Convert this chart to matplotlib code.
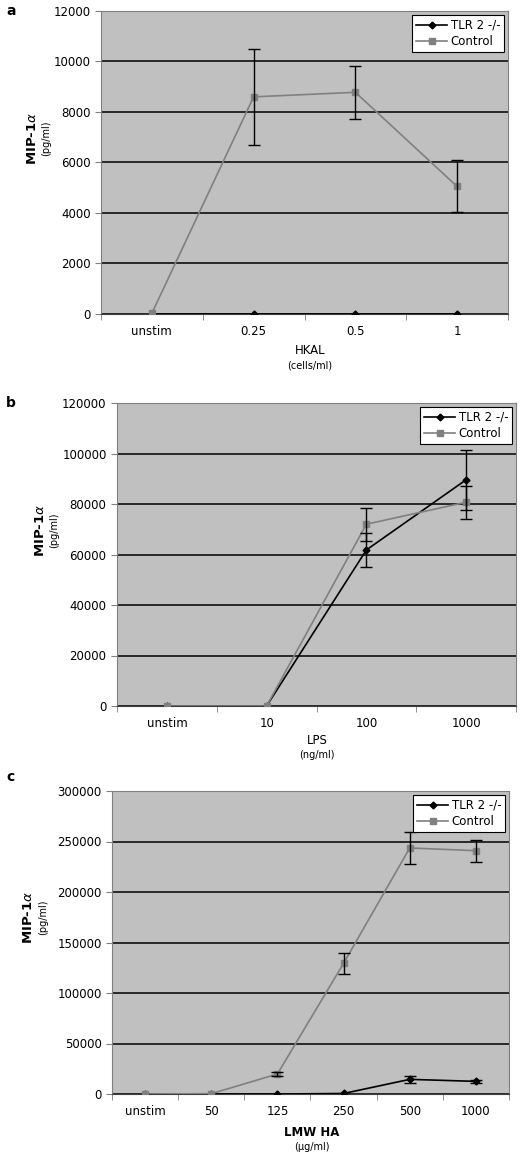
import matplotlib
matplotlib.use("Agg")
import matplotlib.pyplot as plt
import numpy as np

# Panel a: HKAL
a_cats = ["unstim", "0.25", "0.5", "1"]
a_tlr2 = [0, 0, 0, 0]
a_ctrl = [30, 8600, 8780, 5050]
a_ctrl_lo = [0, 6700, 7740, 4020]
a_ctrl_hi = [0, 10500, 9830, 6100]

# Panel b: LPS
b_cats = ["unstim", "10", "100", "1000"]
b_tlr2 = [0, 0, 61800, 89600]
b_tlr2_lo = [0, 0, 54900, 77700]
b_tlr2_hi = [0, 0, 68700, 101500]
b_ctrl = [0, 0, 72000, 80700]
b_ctrl_lo = [0, 0, 65500, 74100]
b_ctrl_hi = [0, 0, 78400, 87000]

# Panel c: LMW HA
c_cats = ["unstim", "50", "125", "250", "500", "1000"]
c_tlr2 = [0, 0, 0, 500, 14500, 12500]
c_tlr2_lo = [0, 0, 0, 500, 11200, 11200]
c_tlr2_hi = [0, 0, 0, 500, 18100, 13800]
c_ctrl = [0, 300, 19800, 129400, 243600, 240900]
c_ctrl_lo = [0, 300, 18000, 118500, 227700, 230000]
c_ctrl_hi = [0, 300, 21600, 139300, 259000, 251100]

W, H = 520, 1158
BG = "#c0c0c0"
GRAY = "#808080"

fig = plt.figure(figsize=(W / 100, H / 100), dpi=100)
fig.patch.set_facecolor("white")


def px(x, y):
    # pixel position (from top-left) -> figure fraction
    return x / W, 1 - y / H


def add_box(left, top, right, bottom):
    return fig.add_axes([left / W, 1 - bottom / H, (right - left) / W, (bottom - top) / H])


def draw_err(ax, x, y, lo, hi):
    y, lo, hi = np.array(y), np.array(lo), np.array(hi)
    m = hi - lo > 0
    ax.errorbar(x[m], y[m], yerr=[y[m] - lo[m], hi[m] - y[m]],
                fmt="none", ecolor="black", elinewidth=1, capsize=4, capthick=1, zorder=5)


def panel(ax, cats, tlr2, ctrl, ymax, ystep, tlr2_err=None, ctrl_err=None):
    n = len(cats)
    x = np.arange(n)
    ax.set_facecolor(BG)
    ax.set_xlim(-0.5, n - 0.5)
    ax.set_ylim(0, ymax)
    ax.set_yticks(np.arange(0, ymax + 1, ystep))
    ax.yaxis.grid(True, color="black", linewidth=1.1)
    ax.set_axisbelow(True)
    ax.set_xticks(x)
    ax.set_xticklabels(cats)
    ax.set_xticks(np.arange(-0.5, n, 1.0), minor=True)
    ax.tick_params(axis="x", which="major", length=0, pad=8, labelsize=8.5)
    ax.tick_params(axis="x", which="minor", length=4, color=GRAY)
    ax.tick_params(axis="y", length=4, color=GRAY, labelsize=8.5)
    for s in ax.spines.values():
        s.set_color(GRAY)
    ax.spines["bottom"].set_color("#404040")

    ax.plot(x, tlr2, color="black", marker="D", markersize=3.5, linewidth=1.2,
            label="TLR 2 -/-", zorder=3)
    ax.plot(x, ctrl, color=GRAY, marker="s", markersize=5, linewidth=1.2,
            label="Control", zorder=4)
    if ctrl_err is not None:
        draw_err(ax, x, ctrl, *ctrl_err)
    if tlr2_err is not None:
        draw_err(ax, x, tlr2, *tlr2_err)

    leg = ax.legend(loc="upper right", fontsize=8.5, frameon=True, fancybox=False,
                    framealpha=1, edgecolor="black", handlelength=2.6,
                    borderpad=0.35, labelspacing=0.3, handletextpad=0.3,
                    borderaxespad=0.3)
    leg.get_frame().set_linewidth(0.8)


def labels(letter, lxy, ylab_x, unit_x, ylab_y, xlab, xlab_xy, xunit, unit_y, xbold=False):
    fig.text(*px(*lxy), letter, ha="left", va="center", fontsize=10, fontweight="bold")
    fig.text(*px(ylab_x, ylab_y), "MIP-1$\\alpha$", rotation=90, ha="center", va="center",
             fontsize=9.5, fontweight="bold")
    fig.text(*px(unit_x, ylab_y), "(pg/ml)", rotation=90, ha="center", va="center", fontsize=7)
    fig.text(*px(*xlab_xy), xlab, ha="center", va="center", fontsize=8.5,
             fontweight="bold" if xbold else "normal")
    fig.text(*px(xlab_xy[0], unit_y), xunit, ha="center", va="center", fontsize=7)


ax_a = add_box(101, 11, 508, 314)
panel(ax_a, a_cats, a_tlr2, a_ctrl, 12000, 2000, ctrl_err=(a_ctrl_lo, a_ctrl_hi))
labels("a", (6, 11), 32, 46, 138, "HKAL", (310, 351), "(cells/ml)", 366)

ax_b = add_box(117, 403, 516, 706)
panel(ax_b, b_cats, b_tlr2, b_ctrl, 120000, 20000,
      tlr2_err=(b_tlr2_lo, b_tlr2_hi), ctrl_err=(b_ctrl_lo, b_ctrl_hi))
labels("b", (6, 403), 40, 54, 530, "LPS", (317, 740), "(ng/ml)", 755)

ax_c = add_box(112, 791, 509, 1094)
panel(ax_c, c_cats, c_tlr2, c_ctrl, 300000, 50000,
      tlr2_err=(c_tlr2_lo, c_tlr2_hi), ctrl_err=(c_ctrl_lo, c_ctrl_hi))
labels("c", (6, 777), 29, 43, 917, "LMW HA", (312, 1133), "(\u00b5g/ml)", 1147, xbold=True)

fig.savefig("out.png", dpi=100)
